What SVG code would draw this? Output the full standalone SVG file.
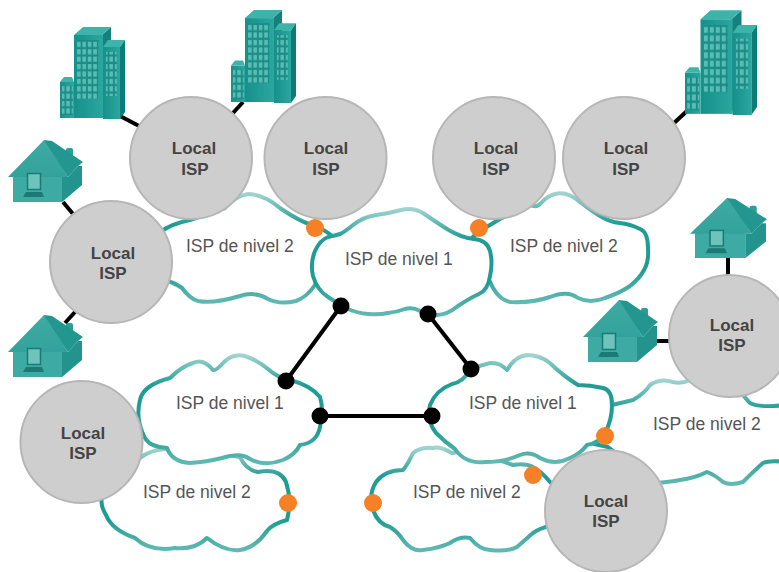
<svg xmlns="http://www.w3.org/2000/svg" width="779" height="572" viewBox="0 0 779 572">
<style>
.cloud{fill:#fff;stroke:url(#cl);stroke-width:4;stroke-linejoin:round}
.isp{fill:#cfcecf;stroke:#b6b6b6;stroke-width:2}
.loc{font:bold 17px "Liberation Sans",Arial,sans-serif;fill:#444;text-anchor:middle}
.lvl{font:17.5px "Liberation Sans",Arial,sans-serif;fill:#555}
.link{stroke:#000;stroke-width:4;fill:none}
.dot{fill:#000}
.port{fill:#f58025}
.icon{filter:url(#soft)}
</style>
<defs>
<filter id="soft" x="-5%" y="-5%" width="110%" height="110%"><feGaussianBlur stdDeviation="0.6"/></filter>
<linearGradient id="cl" x1="0" y1="0" x2="0" y2="1">
<stop offset="0" stop-color="#9fd4d0"/><stop offset=".28" stop-color="#1f9c94"/><stop offset=".7" stop-color="#1f9c94"/><stop offset="1" stop-color="#62b8b3"/>
</linearGradient>
<linearGradient id="bf" x1="0" y1="0" x2="1" y2="0"><stop offset="0" stop-color="#17908a"/><stop offset="1" stop-color="#2ba79f"/></linearGradient>
<linearGradient id="hw" x1="0" y1="0" x2="0" y2="1"><stop offset="0" stop-color="#3eaaa3"/><stop offset="1" stop-color="#2b9e97"/></linearGradient>
<pattern id="win" width="5.4" height="7.4" patternUnits="userSpaceOnUse"><rect width="5.4" height="7.4" fill="#1b8c86"/><rect x=".8" y="1" width="3.6" height="5.2" fill="#58bdb5"/></pattern>
<symbol id="building" viewBox="0 0 65 93" width="65" height="93" preserveAspectRatio="none" overflow="visible">
<polygon points="42,9 51,1 51,70 42,92" fill="#14807b"/>
<polygon points="14,9 23,1 51,1 42,9" fill="#3db3aa"/>
<rect x="14" y="9" width="29" height="83" fill="url(#bf)"/>
<rect x="17" y="14" width="21.600" height="59" fill="url(#win)"/>
<polygon points="43,21 48,14 65,14 60,21" fill="#3db3aa"/>
<rect x="43" y="21" width="17" height="72" fill="url(#bf)"/>
<polygon points="60,21 65,14 65,86 60,93" fill="#0f7b76"/>
<rect x="46" y="26" width="10.800" height="44" fill="url(#win)"/>
<polygon points="0,56 4,51 12,51 14,56" fill="#3db3aa"/>
<rect x="0" y="56" width="14" height="36" fill="url(#bf)"/>
<rect x="2" y="60" width="10.800" height="29" fill="url(#win)"/>
</symbol>
<symbol id="house" viewBox="0 0 75 62" width="75" height="62" preserveAspectRatio="none" overflow="visible">
<rect x="58" y="8" width="7" height="14" rx="2" fill="#2a9e97"/>
<polygon points="36,0 44,1 75,22 70,26 60,37 36,3" fill="#24968f"/>
<polygon points="54,37 60,37 70,26 74,26 74,45 54,62" fill="#24938d"/>
<polygon points="0,37 36,0 60,37 54,37 54,62 5,62 5,37" fill="url(#hw)"/>
<rect x="5" y="37" width="49" height="25" fill="#3eaba4"/>
<rect x="19.500" y="33.500" width="13" height="16" fill="#6cc4bd" stroke="#1a7a75" stroke-width="1.500"/>
<polygon points="18,52 34,52 36,57 15,57" fill="#1a7a75"/>
</symbol>
</defs>
<g id="clouds">
<path id="cloud-n2-tl" class="cloud" d="M161 232Q170 224 190 220L225 208Q235 196 248 194Q263 194 280 208Q300 222 315 226Q325 230 332 236L320 270L315 285Q307 297 296 301Q280 305 268 299Q255 291 240 296Q213 304 198 301Q190 299 182 288Q175 283 165 280Z"/>
<path id="cloud-n2-tr" class="cloud" d="M493 288Q500 300 510 302Q533 303 550 297Q568 290 578 298Q590 304 605 298Q620 293 630 286Q640 278 644 270Q649 262 648 248Q648 232 640 229Q630 224 620 223Q610 222 600 216Q590 210 580 202Q567 191 555 194Q547 196 541 203Q537 208 530 205L500 219Q490 225 478 232L470 240Z"/>
<path id="cloud-n2-bl" class="cloud" d="M240 457Q246 470 258 472Q280 468 286 482Q292 500 287 520Q272 524 267 531Q255 548 240 550Q225 552 207 538Q195 550 175 548Q150 552 135 538Q112 530 106 515Q100 505 102 498L130 470L140 458Q150 450 165 449L200 450Z"/>
<path id="cloud-n2-r" class="cloud" d="M612 405Q625 402 633 400Q645 393 650 385Q660 378 673 382Q682 384 690 380L735 385Q745 398 750 403Q760 408 785 405L785 462Q770 460 763 463Q755 470 743 482Q730 486 723 482Q715 475 707 472Q695 478 680 480Q670 482 655 483L608 447L590 443Z"/>
<path id="cloud-n2-br" class="cloud" d="M550 482Q540 470 533 467Q525 463 513 465L470 450L452 453Q440 446 433 448Q420 447 413 453Q408 464 403 470Q385 470 376 482Q368 495 373 510Q378 524 390 527Q398 532 403 540Q412 552 423 550Q440 548 450 543Q460 536 470 538Q480 550 490 550Q508 552 517 547Q525 540 533 533Q540 528 550 526L570 500Z"/>
<path id="cloud-n1-top" class="cloud" d="M328 237Q320 240 315 251Q310 263 313 276Q317 290 328 297Q340 305 348 309Q357 313 368 314Q380 315 388 313Q397 312 405 309Q413 307 420 311Q428 315 437 315Q447 315 458 306Q470 298 479 294Q488 290 490 276Q493 263 490 251Q487 240 474 239Q462 238 447 229Q433 220 423 213Q413 207 401 210Q390 213 376 215Q363 217 353 225Q343 233 340 234Q337 235 328 237Z"/>
<path id="cloud-n1-bl" class="cloud" d="M290 380Q278 378 268 369Q257 360 245 356Q233 353 224 362Q216 371 213 370Q203 358 193 363Q182 366 170 378Q143 385 140 400Q135 420 145 438Q150 447 167 448Q172 462 190 463Q207 462 222 458Q240 452 250 459Q265 467 283 460Q295 455 300 445Q317 443 320 427Q324 410 320 397Q310 385 290 380Z"/>
<path id="cloud-n1-br" class="cloud" d="M470 370Q463 382 452 384Q436 390 430 405Q426 420 436 433Q445 442 455 449Q465 464 485 462Q505 462 520 455Q530 451 540 458Q555 466 570 458Q580 454 587 445Q600 443 605 433Q612 420 612 405Q612 390 603 388Q590 385 578 385Q562 375 550 363Q540 355 527 355Q515 356 507 370Q500 362 490 363Q480 365 470 370Z"/>
</g>
<g id="connectors">
<line class="link" x1="120" y1="116" x2="141" y2="127"/>
<line class="link" x1="233" y1="113" x2="243" y2="102"/>
<line class="link" x1="63" y1="202" x2="73" y2="214"/>
<line class="link" x1="65" y1="323" x2="75" y2="312"/>
<line class="link" x1="673" y1="124" x2="688" y2="110"/>
<line class="link" x1="728" y1="258" x2="728" y2="277"/>
<line class="link" x1="655" y1="341" x2="670" y2="341"/>
<line class="link" x1="341" y1="306" x2="286" y2="381"/>
<line class="link" x1="428" y1="314" x2="471" y2="369"/>
<line class="link" x1="320" y1="416" x2="432" y2="416"/>
<circle class="dot" cx="341" cy="306" r="8.500"/><circle class="dot" cx="286" cy="381" r="8.500"/>
<circle class="dot" cx="428" cy="314" r="8.500"/><circle class="dot" cx="471" cy="369" r="8.500"/>
<circle class="dot" cx="320" cy="416" r="8.500"/><circle class="dot" cx="432" cy="416" r="8.500"/>
</g>
<g id="building-1" class="icon"><use href="#building" x="60" y="26"/></g>
<g id="building-2" class="icon"><use href="#building" x="231" y="9" height="94"/></g>
<g id="building-3" class="icon"><use href="#building" x="685" y="9" width="72" height="106"/></g>
<g id="house-1" class="icon"><use href="#house" x="8" y="140"/></g>
<g id="house-2" class="icon"><use href="#house" x="8" y="315"/></g>
<g id="house-3" class="icon"><use href="#house" x="690" y="198" width="77" height="60"/></g>
<g id="house-4" class="icon"><use href="#house" x="583" y="300"/></g>
<g id="local-a"><circle class="isp" cx="191" cy="158" r="61"/><text class="loc" x="194" y="154">Local</text><text class="loc" x="195" y="175">ISP</text></g>
<g id="local-b"><circle class="isp" cx="325.500" cy="158" r="61"/><text class="loc" x="326" y="154">Local</text><text class="loc" x="326" y="175">ISP</text></g>
<g id="local-c"><circle class="isp" cx="494" cy="158" r="61"/><text class="loc" x="496" y="154">Local</text><text class="loc" x="496" y="175">ISP</text></g>
<g id="local-d"><circle class="isp" cx="624" cy="158" r="61"/><text class="loc" x="626" y="154">Local</text><text class="loc" x="626" y="175">ISP</text></g>
<g id="local-e"><circle class="isp" cx="111" cy="262" r="61"/><text class="loc" x="113" y="259">Local</text><text class="loc" x="113" y="279">ISP</text></g>
<g id="local-f"><circle class="isp" cx="730" cy="336" r="61"/><text class="loc" x="732" y="331">Local</text><text class="loc" x="732" y="351">ISP</text></g>
<g id="local-g"><circle class="isp" cx="81.500" cy="442" r="61"/><text class="loc" x="83" y="439">Local</text><text class="loc" x="83" y="459">ISP</text></g>
<g id="local-h"><circle class="isp" cx="606" cy="511" r="61"/><text class="loc" x="606" y="507">Local</text><text class="loc" x="606" y="527">ISP</text></g>
<g id="ports">
<circle class="port" cx="315" cy="228" r="9"/><circle class="port" cx="479" cy="228" r="9"/>
<circle class="port" cx="288" cy="503" r="9"/><circle class="port" cx="373" cy="503" r="9"/>
<circle class="port" cx="533" cy="475" r="9"/><circle class="port" cx="605" cy="436" r="9"/>
</g>
<g id="labels">
<text class="lvl" x="186" y="252">ISP de nivel 2</text>
<text class="lvl" x="345" y="265">ISP de nivel 1</text>
<text class="lvl" x="510" y="252">ISP de nivel 2</text>
<text class="lvl" x="176" y="409">ISP de nivel 1</text>
<text class="lvl" x="469" y="409">ISP de nivel 1</text>
<text class="lvl" x="653" y="430">ISP de nivel 2</text>
<text class="lvl" x="143" y="498">ISP de nivel 2</text>
<text class="lvl" x="413" y="498">ISP de nivel 2</text>
</g>
</svg>
